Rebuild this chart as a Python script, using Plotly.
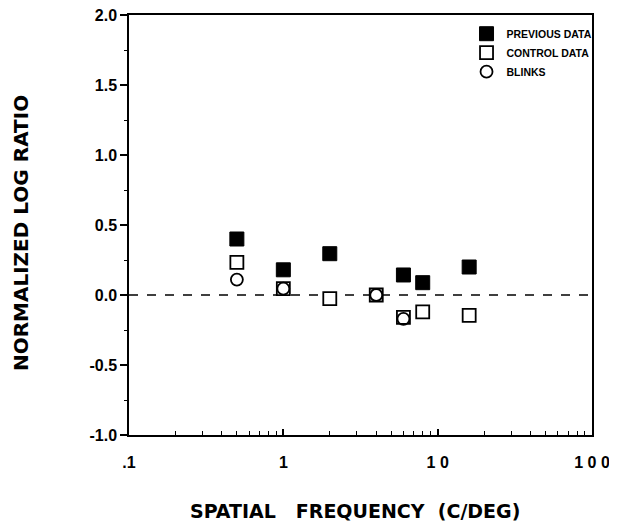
import plotly.graph_objects as go

# Data
freq_prev = [0.5, 1, 2, 6, 8, 16]
ratio_prev = [0.40, 0.18, 0.295, 0.143, 0.088, 0.20]

freq_ctrl = [0.5, 1, 2, 4, 6, 8, 16]
ratio_ctrl = [0.233, 0.045, -0.026, 0.0, -0.16, -0.12, -0.145]

freq_blink = [0.5, 1, 4, 6]
ratio_blink = [0.11, 0.045, 0.0, -0.17]

x_tickvals = [0.1, 1, 10, 100]
x_ticktext = [".1", "1", "1 0", "1 0 0"]
y_tickvals = [-1.0, -0.5, 0.0, 0.5, 1.0, 1.5, 2.0]
y_ticktext = ["-1.0", "-0.5", "0.0", "0.5", "1.0", "1.5", "2.0"]

FONT = "Liberation Sans, Arial, Helvetica, sans-serif"
TITLE_FONT = "DejaVu Sans, Liberation Sans, sans-serif"
LEG_FONT = "Liberation Sans Narrow, Liberation Sans, Arial, sans-serif"

fig = go.Figure()
fig.add_trace(go.Scatter(
    x=freq_prev, y=ratio_prev, mode="markers", name="PREVIOUS DATA",
    marker=dict(symbol="square", size=14, color="black", line=dict(color="black", width=1))))
fig.add_trace(go.Scatter(
    x=freq_ctrl, y=ratio_ctrl, mode="markers", name="CONTROL DATA",
    marker=dict(symbol="square", size=13, color="white", line=dict(color="black", width=1.8))))
fig.add_trace(go.Scatter(
    x=freq_blink, y=ratio_blink, mode="markers", name="BLINKS",
    marker=dict(symbol="circle-open", size=12, color="black", line=dict(color="black", width=1.8))))

fig.add_shape(type="line", xref="paper", yref="y", x0=0, x1=1, y0=0, y1=0,
              line=dict(color="black", width=1.5, dash="dash"), layer="below")

fig.update_xaxes(
    type="log", range=[-1, 2], tickvals=x_tickvals, ticktext=x_ticktext,
    ticks="inside", ticklen=6, tickwidth=1.5, tickcolor="black",
    minor=dict(ticks="inside", ticklen=4, tickwidth=1, tickcolor="black", dtick="D1", showgrid=False),
    showline=True, linecolor="black", linewidth=1.5, mirror=True,
    showgrid=False, zeroline=False, automargin=False, ticklabeloverflow="allow",
    ticklabelstandoff=12,
    tickfont=dict(family=FONT, size=16, color="black", weight="bold"),
)
fig.update_yaxes(
    range=[-1, 2], tickvals=y_tickvals, ticktext=y_ticktext,
    ticks="outside", ticklen=7, tickwidth=1.5, tickcolor="black",
    minor=dict(ticks="outside", ticklen=3, tickwidth=1, tickcolor="black", dtick=0.25, showgrid=False),
    showline=True, linecolor="black", linewidth=1.5, mirror=True,
    showgrid=False, zeroline=False, automargin=False, ticklabeloverflow="allow",
    tickfont=dict(family=FONT, size=16, color="black", weight="bold"),
)

fig.add_annotation(text="NORMALIZED LOG RATIO", xref="paper", yref="paper",
                   x=-0.233, y=0.481, xanchor="center", yanchor="middle",
                   textangle=-90, showarrow=False,
                   font=dict(family=TITLE_FONT, size=20, color="black", weight="bold"))
fig.add_annotation(text="SPATIAL\u00a0\u00a0\u00a0FREQUENCY\u00a0 (C/DEG)", xref="paper", yref="paper",
                   x=0.489, y=-0.181, xanchor="center", yanchor="middle", showarrow=False,
                   font=dict(family=TITLE_FONT, size=19, color="black", weight="bold"))

# The page body has an 8px default margin, so the figure is sized to fit the window.
fig.update_layout(
    width=609, height=516,
    margin=dict(l=121, r=25, t=7, b=89),
    paper_bgcolor="white", plot_bgcolor="white",
    showlegend=True,
    legend=dict(x=0.729, y=0.99, xanchor="left", yanchor="top",
                bgcolor="rgba(0,0,0,0)", borderwidth=0,
                font=dict(family=LEG_FONT, size=10.5, color="black", weight="bold"),
                itemwidth=30, tracegroupgap=0),
)

fig.write_html("out.html")
